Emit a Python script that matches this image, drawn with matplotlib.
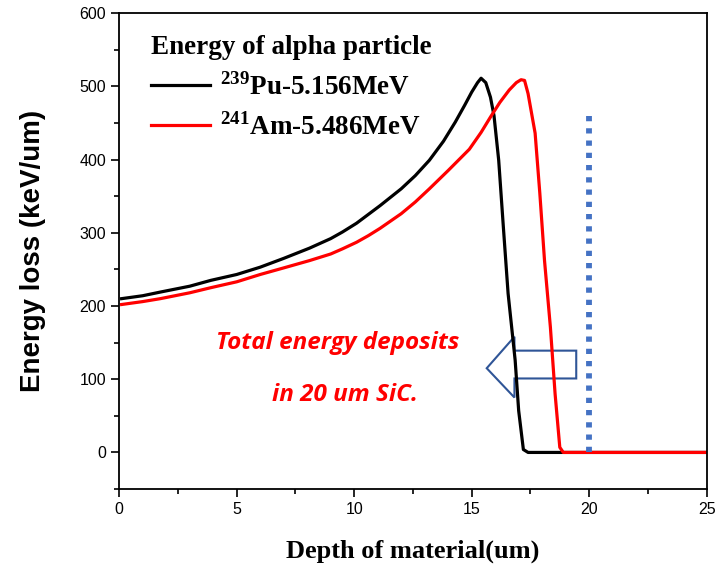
import numpy as np
import matplotlib.pyplot as plt
from matplotlib.patches import Polygon

plt.rcParams['mathtext.fontset'] = 'custom'
plt.rcParams['mathtext.rm'] = 'Liberation Serif:bold'
plt.rcParams['mathtext.bf'] = 'Liberation Serif:bold'

# Pu-239 alpha, 5.156 MeV
pu_depth = [0.1, 1.0, 1.75, 3.0, 3.9, 5.0, 6.0, 7.0, 8.1, 9.0, 9.5, 10.1, 10.6, 11.1, 12.0, 12.6,
            13.2, 13.8, 14.3, 14.7, 15.0, 15.25, 15.4, 15.6, 15.8, 15.95, 16.15, 16.35, 16.55,
            16.85, 17.0, 17.2, 17.4, 25.0]
pu_loss = [210, 214, 219, 227, 235, 243, 253, 265, 279, 292, 301, 313, 325, 337, 360, 378,
           399, 425, 451, 474, 492, 505, 511, 505, 485, 460, 399, 307, 217,
           126, 57, 4, 0, 0]

# Am-241 alpha, 5.486 MeV
am_depth = [0.1, 1.0, 1.75, 3.0, 3.9, 5.0, 6.0, 7.0, 8.1, 9.0, 9.5, 10.1, 10.6, 11.1, 12.0, 12.6,
            13.2, 14.0, 14.9, 15.4, 15.8, 16.2, 16.6, 16.9, 17.1, 17.25, 17.4, 17.7, 17.9, 18.1,
            18.35, 18.55, 18.75, 18.9, 25.0]
am_loss = [202, 206, 210, 218, 225, 233, 243, 252, 262, 271, 278, 287, 296, 306, 326, 342,
           360, 385, 414, 437, 458, 478, 495, 505, 509, 508, 490, 436, 354, 262,
           171, 80, 7, 0, 0]

sic_thickness = 20
marker_top = 460

fig = plt.figure(figsize=(7.27, 5.68), dpi=100)
ax = fig.add_axes([0.164, 0.139, 0.808, 0.838])

ax.plot(pu_depth, pu_loss, color='black', lw=2.3, label='$^{239}$Pu-5.156MeV')
ax.plot(am_depth, am_loss, color='#ff0000', lw=2.3, label='$^{241}$Am-5.486MeV')

# SiC thickness marker
ax.plot([sic_thickness, sic_thickness], [0, marker_top], color='#4472c4', lw=4.2,
        linestyle=(0, (0.9, 1.2)), dash_capstyle='butt')

# hollow arrow pointing left
arrow = Polygon([(15.64, 115), (16.82, 158), (16.82, 139), (19.45, 139),
                 (19.45, 101), (16.82, 101), (16.82, 75)],
                closed=True, fill=False, edgecolor='#2f5597', lw=1.5)
ax.add_patch(arrow)

ax.text(9.3, 150, 'Total energy deposits', color='#ff0000', fontsize=17.5,
        fontstyle='italic', fontweight='bold', family='Open Sans', ha='center', va='center')
ax.text(9.6, 79, 'in 20 um SiC.', color='#ff0000', fontsize=17.5,
        fontstyle='italic', fontweight='bold', family='Open Sans', ha='center', va='center')

ax.set_xlim(0, 25)
ax.set_ylim(-50, 600)
ax.set_xticks(np.arange(0, 26, 5))
ax.set_xticks(np.arange(0, 25.1, 2.5), minor=True)
ax.set_yticks(np.arange(0, 601, 100))
ax.set_yticks(np.arange(-50, 601, 50), minor=True)
ax.tick_params(which='major', direction='out', length=6, width=1.2, labelsize=11.5)
ax.tick_params(which='minor', direction='out', length=3.5, width=1.2)
for lab in ax.get_xticklabels() + ax.get_yticklabels():
    lab.set_family('Liberation Sans')
for s in ax.spines.values():
    s.set_linewidth(1.3)

ax.set_xlabel('Depth of material(um)', family='Liberation Serif', fontweight='bold',
              fontsize=19, labelpad=16)
ax.set_ylabel('Energy loss (keV/um)', family='Liberation Sans', fontweight='bold',
              fontsize=20, labelpad=24)

leg = ax.legend(loc='upper left', bbox_to_anchor=(0.012, 1.005), frameon=False,
                title='Energy of alpha particle', alignment='left',
                prop={'family': 'Liberation Serif', 'weight': 'bold', 'size': 19.5},
                title_fontproperties={'family': 'Liberation Serif', 'weight': 'bold', 'size': 19.5},
                handlelength=2.2, handletextpad=0.35, labelspacing=0.45)

fig.savefig('out.png', dpi=100)
